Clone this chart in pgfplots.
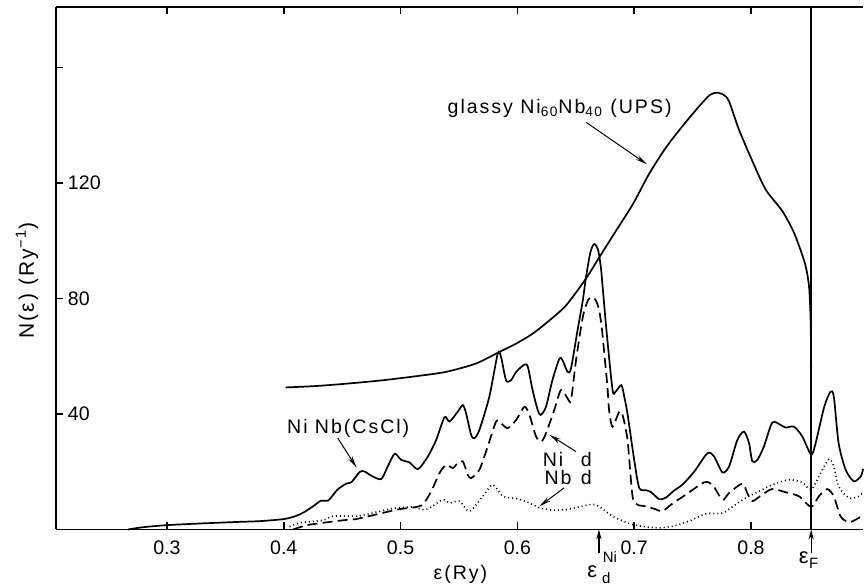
\documentclass[border=0pt]{standalone}
\usepackage{fontspec}
\setmainfont{Liberation Sans}
\newfontfamily\lsfont[LetterSpace=10]{Liberation Sans}
\usepackage{pgfplots}
\pgfplotsset{compat=1.18}
\usetikzlibrary{arrows.meta}

\begin{document}
\begin{tikzpicture}
\begin{axis}[
  name=ax,
  scale only axis,
  width=404pt, height=261.5pt,
  xmin=0.205, xmax=0.896, ymin=0, ymax=181,
  axis x line=box, axis y line=left,
  axis line style={-, line width=0.85pt},
  xtick={0.3,0.4,0.5,0.6,0.7,0.8},
  xticklabels={0.3,0.4,0.5,0.6,0.7,0.8},
  ytick={40,80,120,160},
  yticklabels={40,80,120,{}},
  tick align=inside,
  major tick length=3.5pt,
  tick style={line width=0.85pt, black},
  xticklabel style={yshift=-2pt},
  yticklabel style={anchor=west, xshift=2.5pt},
  ticklabel style={font=\fontsize{9.8}{11}\selectfont},
  clip=false,
  /pgf/number format/assume math mode=true,
]
% glassy Ni60Nb40 (UPS)
\addplot[black, line width=0.85pt, smooth, tension=0.45] coordinates {
(0.4017,49.2) (0.428,49.7) (0.4564,50.6) (0.4849,51.7) (0.5134,53.1)
(0.539,54.6) (0.5646,57.5) (0.5846,61.5) (0.599,64.4) (0.613,67.8)
(0.6274,72.4) (0.6416,77.6) (0.658,86.5) (0.670,94.2) (0.6843,103.4)
(0.6986,112.5) (0.7128,123.2) (0.727,132.2) (0.7413,139.7) (0.7556,146.6)
(0.765,150.6) (0.771,151.3) (0.7765,150.6) (0.7812,148.3) (0.7897,138.5) (0.8012,127.6)
(0.8125,117.8) (0.8268,110.3) (0.8368,102.8) (0.846,92.4) (0.8496,84.5)
(0.8510,73) (0.8515,56)
};
% NiNb (CsCl) total DOS
\addplot[black, line width=0.85pt, smooth, tension=0.45] coordinates {
(0.2667,0) (0.28,0.8) (0.30,1.5) (0.33,2.1) (0.36,2.6) (0.38,2.9) (0.40,3.6)
(0.41,4.6) (0.417,5.9) (0.425,8.0) (0.432,10.0) (0.438,10.0) (0.446,13.8)
(0.4536,15.9) (0.458,16.4) (0.465,19.9) (0.469,20.1) (0.476,18.4) (0.4835,17.5)
(0.489,21.8) (0.4949,26.2) (0.5006,24.1) (0.5077,23.2) (0.515,20.9) (0.5234,25.3)
(0.5305,31) (0.5376,38.9) (0.5419,37.4) (0.549,40.8) (0.5533,43.1) (0.5561,40.2)
(0.5604,32.8) (0.5632,31.6) (0.5675,34.5) (0.576,46) (0.5832,60.9) (0.586,59.8)
(0.5903,51.7) (0.5946,51.7) (0.599,54.6) (0.606,57.1) (0.609,56.3) (0.613,48.3)
(0.6174,41.4) (0.62,39.7) (0.6245,42.5) (0.630,51.7) (0.636,59.2) (0.6387,58.6)
(0.643,54.6) (0.6459,55.8) (0.6515,69) (0.656,79.3) (0.6587,87.3) (0.6625,96)
(0.6658,98.9) (0.669,97) (0.6715,90.8) (0.673,84) (0.6765,68) (0.6815,48.3)
(0.684,47.7) (0.689,50) (0.6915,46) (0.6943,40) (0.70,24.1) (0.7043,14.4)
(0.71,13.6) (0.7143,13) (0.7214,10.5) (0.727,11) (0.7342,13.5) (0.7413,15.5)
(0.7513,20) (0.7627,26.4) (0.7684,25.3) (0.7755,19.8) (0.7812,21.8) (0.7883,31)
(0.794,33.9) (0.7983,29.9) (0.8011,23.6) (0.8054,24.1) (0.811,28.7) (0.8182,37)
(0.8254,36.2) (0.8296,35.3) (0.8368,35.6) (0.8439,32.2) (0.8515,25.9) (0.8553,29.9)
(0.8627,42.5) (0.868,47.7) (0.8709,46) (0.875,29.9) (0.881,20.7) (0.888,16.7)
(0.894,18.4) (0.896,21)
};
% Ni d (dashed)
\addplot[black, line width=0.85pt, smooth, tension=0.45, dash pattern=on 5pt off 2.6pt] coordinates {
(0.408,0) (0.42,1.5) (0.4336,2.3) (0.445,2.9) (0.456,3.4) (0.462,3.6) (0.475,4.8)
(0.4906,6.3) (0.5,7.1) (0.5177,8.3) (0.5262,13.2) (0.5333,19.5) (0.539,22.4)
(0.5447,21.3) (0.549,23) (0.5533,23.6) (0.5575,19) (0.5604,17.8) (0.5675,20.7)
(0.5746,28.7) (0.5818,37.4) (0.586,36.8) (0.5917,35.1) (0.5989,37.9) (0.606,42.5)
(0.6103,39.7) (0.616,32.2) (0.6203,30.4) (0.6245,33.3) (0.6316,41.4) (0.6373,48.3)
(0.643,45.4) (0.6459,44.8) (0.6502,58.6) (0.656,73.6) (0.6605,79.5) (0.6638,80.5)
(0.667,79.5) (0.670,76) (0.6725,69) (0.6744,61) (0.677,50) (0.6786,41)
(0.6815,35.6) (0.6872,40.8) (0.69,39.7) (0.6943,31) (0.6986,11.5) (0.7028,8.6)
(0.71,8) (0.7184,7) (0.7242,6.3) (0.7328,9) (0.744,12) (0.7598,16.3) (0.767,15.5)
(0.7755,10.3) (0.7812,12.6) (0.7926,15.9) (0.7968,12.6) (0.8011,9.8) (0.8097,12.1)
(0.8182,14) (0.8296,12.9) (0.8411,11.5) (0.8515,7.8) (0.8581,11.5) (0.8652,14)
(0.8709,11.5) (0.8766,4.6) (0.8838,2.5) (0.8923,4) (0.896,5)
};
% Nb d (dotted)
\addplot[black, line width=0.8pt, smooth, tension=0.45, dash pattern=on 0.5pt off 1.5pt] coordinates {
(0.405,1.0) (0.4137,2.3) (0.4336,3.2) (0.442,4.6) (0.462,4.6) (0.4707,5.2)
(0.4906,7.1) (0.4991,7.5) (0.51,7.8) (0.522,6.9) (0.536,10.3) (0.5419,9.2)
(0.5504,9.8) (0.559,6.3) (0.5704,11.5) (0.5789,15.5) (0.5875,11.5) (0.599,10.7)
(0.6103,9.2) (0.6188,7.5) (0.63,6.7) (0.6416,6.9) (0.655,8) (0.6615,8.6)
(0.667,8.6) (0.670,8) (0.6815,4.6) (0.6986,1.7) (0.7184,0.6) (0.7328,1.1)
(0.747,2.9) (0.7613,5.4) (0.7755,5.7) (0.7868,8.6) (0.7954,10.9) (0.8068,13.2)
(0.8182,15.5) (0.8325,17.2) (0.8439,16.3) (0.8515,13.8) (0.8595,19.5) (0.8667,24.4)
(0.8709,21.8) (0.875,14.9) (0.8838,10.9) (0.8923,11.5) (0.896,13)
};
% Fermi level line
\draw[line width=0.75pt] (axis cs:0.8515,0) -- (axis cs:0.8515,181);
\draw[line width=0.6pt, -{Stealth[length=5pt,width=2.6pt]}] (axis cs:0.8515,-8) -- (axis cs:0.8515,0);
\draw[line width=0.6pt, -{Stealth[length=5pt,width=2.6pt]}] (axis cs:0.6698,-8) -- (axis cs:0.6698,0);
% labels
\begin{scope}[every node/.style={font=\lsfont\fontsize{9.8}{11}\selectfont, inner sep=0pt}]
\node[anchor=base west] at (axis cs:0.540,144.2) {glassy Ni\textsubscript{60}Nb\textsubscript{40} (UPS)};
\node[anchor=base west] at (axis cs:0.4026,33.4) {Ni Nb(CsCl)};
\node[anchor=base west] at (axis cs:0.6214,21.8) {Ni};
\node[anchor=base east] at (axis cs:0.6641,21.8) {d};
\node[anchor=base west] at (axis cs:0.623,15.5) {Nb};
\node[anchor=base east] at (axis cs:0.6641,15.5) {d};
% eps_d^Ni
\node[anchor=center, font=\fontsize{11}{12}\selectfont] at (axis cs:0.6641,-14.5) {ε};
\node[anchor=base west, font=\fontsize{7.5}{8}\selectfont] at (axis cs:0.6728,-11.6) {Ni};
\node[anchor=base west, font=\fontsize{7.5}{8}\selectfont] at (axis cs:0.6722,-18.6) {d};
% eps_F
\node[anchor=center, font=\fontsize{11}{12}\selectfont] at (axis cs:0.8452,-9.8) {ε};
\node[anchor=base west, font=\fontsize{7.5}{8}\selectfont] at (axis cs:0.8495,-13.4) {F};
\node at (axis cs:0.5513,-15.5) {ε(Ry)};
\node[rotate=90, font=\lsfont\fontsize{10.5}{12}\selectfont] at (axis cs:0.1803,86.2) {N(ε) (Ry\textsuperscript{−1})};
\end{scope}
\draw[line width=0.5pt, -{Stealth[length=6pt,width=2.4pt]}] (axis cs:0.659,141) -- (axis cs:0.711,126.5);
\draw[line width=0.5pt, -{Stealth[length=6pt,width=2.4pt]}] (axis cs:0.4462,31.7) -- (axis cs:0.4624,21.4);
\draw[line width=0.5pt, -{Stealth[length=6pt,width=2.4pt]}] (axis cs:0.650,27) -- (axis cs:0.6274,32.8);
\draw[line width=0.5pt, -{Stealth[length=6pt,width=2.4pt]}] (axis cs:0.640,14.4) -- (axis cs:0.6188,8.0);
\end{axis}
\path (ax.south west) ++(-28pt,-28pt);
\path (ax.north east) ++(0,3.5pt);
\end{tikzpicture}
\end{document}
